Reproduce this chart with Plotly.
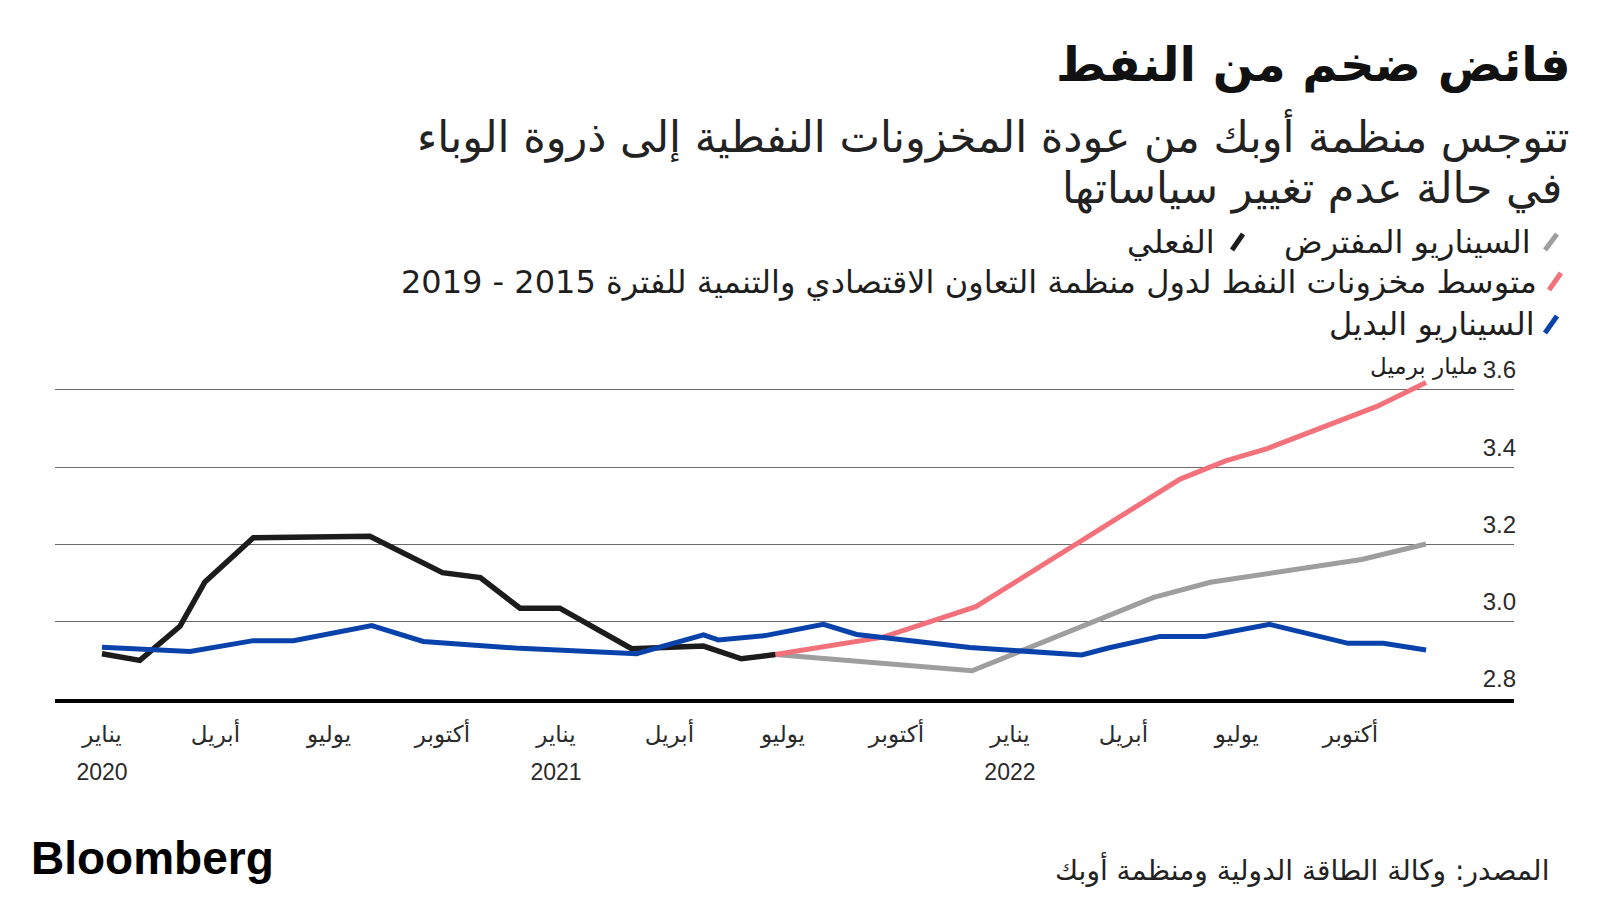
import plotly.graph_objects as go

# ---------------- data (x = months since January 2020) ----------------
actual_x = [0, 1, 2.06, 2.72, 4.0, 7.08, 9.0, 10.0, 11.05, 12.1, 14.0, 15.9, 16.9, 17.8]
actual_y = [2.917, 2.900, 2.988, 3.103, 3.217, 3.221, 3.127, 3.114, 3.035, 3.035, 2.930, 2.937, 2.904, 2.915]

base_x = [17.8, 23.0, 27.8, 29.3, 33.3, 35.0]
base_y = [2.915, 2.873, 3.063, 3.102, 3.161, 3.201]

oecd_x = [17.8, 20.65, 23.1, 28.5, 29.7, 30.8, 33.7, 35.0]
oecd_y = [2.915, 2.960, 3.039, 3.369, 3.416, 3.448, 3.557, 3.619]

alt_x = [0, 2.33, 4.0, 5.06, 7.13, 8.49, 11.05, 14.13, 15.9, 16.29, 17.53, 19.07, 19.95,
         22.94, 25.9, 26.6, 27.97, 29.16, 30.87, 32.94, 33.87, 35.0]
alt_y = [2.934, 2.923, 2.951, 2.951, 2.990, 2.949, 2.931, 2.917, 2.966, 2.953, 2.964, 2.993, 2.967,
         2.933, 2.914, 2.932, 2.962, 2.962, 2.993, 2.944, 2.944, 2.927]

month_ticks = [0, 3, 6, 9, 12, 15, 18, 21, 24, 27, 30, 33]
month_labels = ["يناير", "أبريل", "يوليو", "أكتوبر"] * 3
year_ticks = [0, 12, 24]
year_labels = ["2020", "2021", "2022"]
y_ticks = [2.8, 3.0, 3.2, 3.4, 3.6]
y_labels = ["2.8", "3.0", "3.2", "3.4", "3.6"]

title = "فائض ضخم من النفط"
subtitle1 = "تتوجس منظمة أوبك من عودة المخزونات النفطية إلى ذروة الوباء"
subtitle2 = "في حالة عدم تغيير سياساتها"
name_base = "السيناريو المفترض"
name_actual = "الفعلي"
name_oecd = "متوسط مخزونات النفط لدول منظمة التعاون الاقتصادي والتنمية للفترة 2015 - 2019"
name_alt = "السيناريو البديل"
unit = "مليار برميل"
source = "المصدر: وكالة الطاقة الدولية ومنظمة أوبك"

C_ACT = "#1c1c1c"
C_BASE = "#9e9e9e"
C_OECD = "#f2717b"
C_ALT = "#0a42ab"

AR = "DejaVu Sans"
LAT = "Liberation Sans"

# ---------------- geometry helpers (page pixels; page has an 8px body margin) ----------------
OFF = 8
L, R, T, B = 55, 1514, 340, 699
W, H = R - L, B - T
PX_PER_UNIT = 386.5      # pixels per 1.0 of the value axis
PX_PER_MONTH = 37.83
X0_PX = 102              # page x of January 2020


def px(xp):
    return (xp - L) / W


def py(yp):
    return (B - yp) / H


fig = go.Figure()
fig.add_trace(go.Scatter(x=base_x, y=base_y, mode="lines", line=dict(color=C_BASE, width=5), name=name_base))
fig.add_trace(go.Scatter(x=oecd_x, y=oecd_y, mode="lines", line=dict(color=C_OECD, width=5), name=name_oecd))
fig.add_trace(go.Scatter(x=actual_x, y=actual_y, mode="lines", line=dict(color=C_ACT, width=5.5), name=name_actual))
fig.add_trace(go.Scatter(x=alt_x, y=alt_y, mode="lines", line=dict(color=C_ALT, width=5), name=name_alt))
# carrier for the year axis (invisible)
fig.add_trace(go.Scatter(x=year_ticks, y=[y_ticks[0]] * len(year_ticks), xaxis="x2", mode="lines",
                         line=dict(width=0, color="rgba(0,0,0,0)"), hoverinfo="skip", showlegend=False))

xr = [(L - X0_PX) / PX_PER_MONTH, (R - X0_PX) / PX_PER_MONTH]
yr = [2.8, 2.8 + H / PX_PER_UNIT]

fig.update_layout(
    width=1600 - OFF, height=900 - OFF,
    margin=dict(l=L - OFF, r=1600 - R, t=T - OFF, b=900 - B, pad=0),
    paper_bgcolor="white", plot_bgcolor="white",
    showlegend=False,
    xaxis=dict(range=xr, tickmode="array", tickvals=month_ticks, ticktext=month_labels,
               showgrid=False, zeroline=False, showline=True, linecolor="black", linewidth=4,
               ticks="", ticklabelstandoff=11,
               tickfont=dict(family=AR, size=23, color="#2a2a2a")),
    xaxis2=dict(range=xr, overlaying="x", anchor="y", side="bottom",
                tickmode="array", tickvals=year_ticks, ticktext=year_labels,
                showgrid=False, zeroline=False, showline=False, ticks="",
                ticklabelstandoff=57,
                tickfont=dict(family=LAT, size=23, color="#2a2a2a")),
    yaxis=dict(range=yr, tickmode="array", tickvals=y_ticks, ticktext=y_labels,
               side="right", ticklabelposition="inside", ticks="", ticklabelshift=-20,
               ticklabelstandoff=-5,
               showgrid=True, gridcolor="#6a6a6a", gridwidth=1, zeroline=False, showline=False,
               tickfont=dict(family=LAT, size=24, color="#2a2a2a")),
)

ann = []


def text(xp, yp, s, size, family=AR, color="#1e1e1e", anchor="right", bold=False):
    if bold:
        s = "<b>" + s + "</b>"
    ann.append(dict(xref="paper", yref="paper", x=px(xp), y=py(yp), text=s, showarrow=False,
                    xanchor=anchor, yanchor="middle", font=dict(family=family, size=size, color=color)))


text(1573, 64, title, 48, bold=True, color="#111111")
text(1571, 136, subtitle1, 43, color="#222222")
text(1564, 189, subtitle2, 43, color="#222222")
text(1533, 242, name_base, 32)
text(1217, 242, name_actual, 32)
text(1539, 282, name_oecd, 32)
text(1537, 324, name_alt, 32)
text(1480, 366, unit, 23)
text(29, 858, "Bloomberg", 46, family=LAT, color="#000000", anchor="left", bold=True)
text(1551, 869, source, 28, color="#222222")
fig.update_layout(annotations=ann)

shapes = []
for (x0, y0, x1, y1, c) in [(1545, 250, 1557, 234, C_BASE), (1232, 250, 1243, 234, C_ACT),
                            (1549, 290, 1561, 273, C_OECD), (1545, 333, 1557, 316, C_ALT)]:
    shapes.append(dict(type="line", xref="paper", yref="paper", x0=px(x0), y0=py(y0), x1=px(x1), y1=py(y1),
                       line=dict(color=c, width=5)))
fig.update_layout(shapes=shapes)

fig.write_html("out.html")
